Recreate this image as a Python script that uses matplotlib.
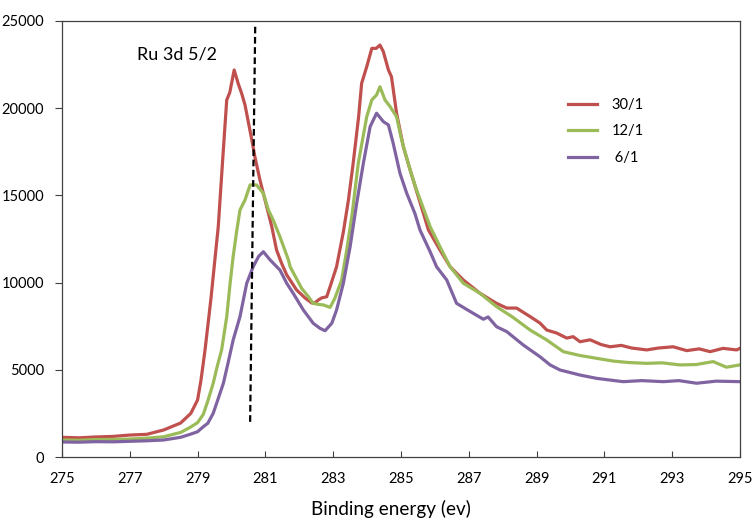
import matplotlib
matplotlib.use("Agg")
import matplotlib.pyplot as plt

plt.rcParams['font.family'] = ['Lato', 'DejaVu Sans']

# 30/1
red_x = [275, 275.5, 276, 276.5, 277, 277.5, 278, 278.25, 278.5, 278.8, 279.0, 279.1,
         279.22, 279.39, 279.51, 279.61, 279.74, 279.86, 279.95, 280.08, 280.2, 280.3,
         280.4, 280.6, 280.69, 280.84, 281.04, 281.19, 281.33, 281.48, 281.63, 281.92,
         282.17, 282.37, 282.46, 282.56, 282.66, 282.81, 282.91, 283.1, 283.3, 283.45,
         283.59, 283.75, 283.84, 283.99, 284.14, 284.27, 284.38, 284.48, 284.63, 284.72,
         284.87, 285.07, 285.27, 285.51, 285.81, 286.15, 286.45, 286.84, 287.33, 287.82,
         288.12, 288.41, 288.81, 289.1, 289.3, 289.59, 289.89, 290.08, 290.28, 290.58,
         290.9, 291.17, 291.5, 291.8, 292.25, 292.6, 293.03, 293.43, 293.8, 294.12,
         294.5, 294.9, 295.0]
red_y = [1130, 1100, 1150, 1180, 1260, 1300, 1550, 1750, 1950, 2500, 3270, 4400,
         6135, 9000, 11300, 13200, 17030, 20470, 20900, 22190, 21400, 20850,
         20180, 18180, 17220, 15880, 14350, 13200, 11870, 11100, 10440, 9580,
         9120, 8830, 8830, 9000, 9120, 9190, 9770, 10910, 12900, 14740,
         16840, 19500, 21430, 22380, 23430, 23430, 23620, 23240, 22190, 21800,
         19710, 17790, 16460, 14930, 13020, 11870, 10910, 10150, 9390, 8810,
         8540, 8540, 8050, 7680, 7280, 7110, 6820, 6900, 6610, 6720,
         6450, 6320, 6400, 6250, 6140, 6250, 6320, 6100, 6200, 6040,
         6230, 6140, 6230]

# 12/1
green_x = [275, 275.5, 276, 276.5, 277, 277.5, 278, 278.5, 278.78, 279.0, 279.17, 279.3,
           279.46, 279.58, 279.71, 279.86, 279.96, 280.05, 280.15, 280.25, 280.4, 280.55,
           280.74, 280.94, 281.09, 281.23, 281.43, 281.68, 281.73, 282.07, 282.27, 282.41,
           282.56, 282.71, 282.91, 283.05, 283.25, 283.4, 283.55, 283.74, 283.99, 284.14,
           284.28, 284.38, 284.53, 284.68, 284.87, 285.02, 285.27, 285.46, 285.86, 286.15,
           286.45, 286.84, 287.33, 287.82, 288.31, 288.81, 289.3, 289.79, 290.28, 290.77,
           291.26, 291.7, 292.25, 292.7, 293.23, 293.7, 294.21, 294.6, 295.0]
green_y = [975, 960, 1000, 1010, 1030, 1080, 1160, 1410, 1700, 1970, 2450, 3200,
           4220, 5200, 6140, 8040, 9960, 11500, 12900, 14160, 14740, 15600,
           15600, 15120, 14160, 13590, 12630, 11300, 10910, 9670, 9190, 8810,
           8750, 8720, 8580, 9100, 10150, 11870, 13780, 16840, 19510, 20470,
           20760, 21230, 20470, 20090, 19510, 18180, 16460, 15310, 13210, 12060,
           10910, 9960, 9390, 8620, 8000, 7280, 6710, 6040, 5820, 5660,
           5500, 5420, 5370, 5400, 5280, 5300, 5470, 5150, 5280]

# 6/1
purple_x = [275, 275.5, 276, 276.5, 277, 277.5, 278, 278.5, 278.78, 279.0, 279.17, 279.3,
            279.46, 279.6, 279.76, 279.9, 280.05, 280.25, 280.45, 280.64, 280.8, 280.94,
            281.14, 281.43, 281.63, 281.82, 282.12, 282.41, 282.61, 282.76, 282.96, 283.1,
            283.3, 283.5, 283.69, 283.89, 284.09, 284.28, 284.48, 284.63, 284.77, 284.97,
            285.17, 285.41, 285.56, 285.86, 286.05, 286.35, 286.64, 287.13, 287.43, 287.57,
            287.82, 288.12, 288.61, 289.1, 289.4, 289.69, 290.28, 290.77, 291.55, 292.1,
            292.74, 293.2, 293.72, 294.3, 295.0]
purple_y = [860, 850, 880, 870, 900, 930, 975, 1130, 1300, 1450, 1740, 1930,
            2500, 3300, 4220, 5400, 6710, 8040, 9960, 10910, 11500, 11770,
            11300, 10720, 9960, 9390, 8430, 7670, 7380, 7240, 7670, 8430,
            9960, 12060, 14500, 16840, 18940, 19710, 19230, 19040, 17990, 16270,
            15120, 13970, 13020, 11770, 10910, 10150, 8810, 8240, 7900, 8030,
            7470, 7190, 6420, 5750, 5280, 4990, 4700, 4510, 4320, 4380,
            4320, 4380, 4230, 4350, 4320]

marker_x = [280.70, 280.55]
marker_y = [24670, 1970]

x_ticks = [275, 277, 279, 281, 283, 285, 287, 289, 291, 293, 295]
y_ticks = [0, 5000, 10000, 15000, 20000, 25000]

fig = plt.figure(figsize=(7.53, 5.22), dpi=100)
ax = fig.add_axes([0.0823, 0.1245, 0.9004, 0.8353])

ax.plot(red_x, red_y, color='#C0504D', lw=2.3, label='30/1')
ax.plot(green_x, green_y, color='#9BBB59', lw=2.3, label='12/1')
ax.plot(purple_x, purple_y, color='#8064A2', lw=2.3, label=' 6/1')
ax.plot(marker_x, marker_y, color='black', lw=1.6, linestyle=(0, (3, 1.6)))

ax.text(277.2, 23050, 'Ru 3d 5/2', fontsize=13, va='center', ha='left')

ax.set_xlim(275, 295)
ax.set_ylim(0, 25000)
ax.set_xticks(x_ticks)
ax.set_yticks(y_ticks)
ax.tick_params(axis='x', direction='in', length=4, labelsize=10.5, pad=11, colors='#404040', labelcolor='black')
ax.tick_params(axis='y', direction='out', length=5, labelsize=10.5, pad=8, colors='#404040', labelcolor='black')
for s in ax.spines.values():
    s.set_color('#404040')
    s.set_linewidth(0.9)

ax.set_xlabel('Binding energy (ev)', fontsize=13.6)
ax.xaxis.set_label_coords(0.485, -0.098)

ax.legend(loc='upper left', bbox_to_anchor=(0.735, 0.84), frameon=False, fontsize=10.5,
          handlelength=2.0, handletextpad=1.0, labelspacing=0.85, borderpad=0)

fig.savefig('out.png', dpi=100)
